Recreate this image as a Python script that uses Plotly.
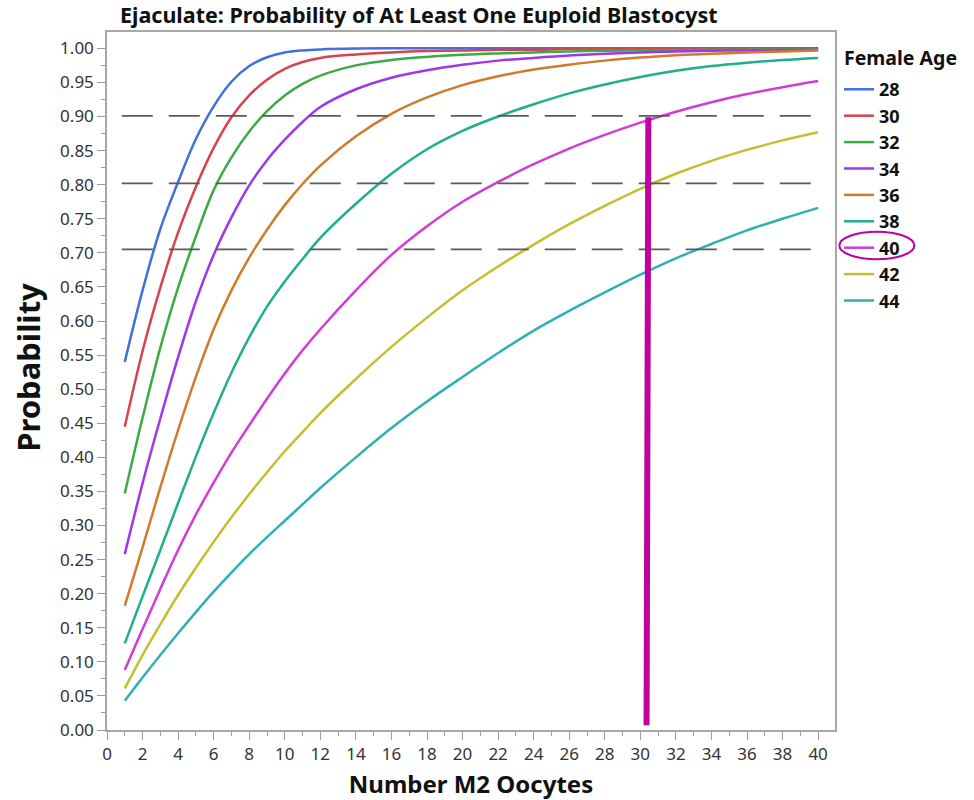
import plotly.graph_objects as go

# ---------------- data ----------------
oocytes = [1, 2, 3, 4, 5, 6, 7, 8, 9, 10, 11, 12, 14, 16, 18, 20, 22, 24, 26, 28, 30, 32, 34, 36, 38, 40]

ages = ["28", "30", "32", "34", "36", "38", "40", "42", "44"]

prob_28 = [0.540, 0.645, 0.735, 0.804, 0.867, 0.915, 0.951, 0.974, 0.987, 0.994, 0.997, 0.9985, 0.9997,
           1.0, 1.0, 1.0, 1.0, 1.0, 1.0, 1.0, 1.0, 1.0, 1.0, 1.0, 1.0, 1.0]
prob_30 = [0.445, 0.556, 0.649, 0.730, 0.797, 0.854, 0.899, 0.931, 0.954, 0.970, 0.980, 0.986, 0.991,
           0.994, 0.996, 0.997, 0.998, 0.998, 0.999, 0.999, 0.999, 0.999, 0.999, 0.999, 0.999, 0.999]
prob_32 = [0.347, 0.458, 0.561, 0.649, 0.724, 0.792, 0.840, 0.878, 0.908, 0.931, 0.948, 0.960, 0.975,
           0.983, 0.9875, 0.9905, 0.9925, 0.994, 0.9955, 0.9965, 0.997, 0.9975, 0.998, 0.998, 0.9985, 0.9988]
prob_34 = [0.258, 0.362, 0.457, 0.547, 0.629, 0.697, 0.752, 0.799, 0.836, 0.866, 0.892, 0.914, 0.940,
           0.957, 0.968, 0.976, 0.982, 0.986, 0.9895, 0.992, 0.994, 0.9955, 0.9965, 0.997, 0.9975, 0.998]
prob_36 = [0.182, 0.268, 0.356, 0.440, 0.518, 0.588, 0.645, 0.693, 0.734, 0.770, 0.801, 0.828, 0.871,
           0.904, 0.928, 0.946, 0.959, 0.969, 0.976, 0.982, 0.9865, 0.990, 0.992, 0.994, 0.9955, 0.997]
prob_38 = [0.127, 0.196, 0.264, 0.333, 0.401, 0.465, 0.524, 0.576, 0.621, 0.658, 0.691, 0.722, 0.772,
           0.816, 0.852, 0.879, 0.900, 0.918, 0.934, 0.947, 0.958, 0.967, 0.974, 0.979, 0.983, 0.986]
prob_40 = [0.088, 0.148, 0.207, 0.264, 0.316, 0.363, 0.407, 0.447, 0.486, 0.523, 0.557, 0.588, 0.645,
           0.697, 0.739, 0.775, 0.804, 0.830, 0.853, 0.873, 0.891, 0.907, 0.921, 0.933, 0.943, 0.952]
prob_42 = [0.061, 0.110, 0.155, 0.198, 0.238, 0.276, 0.312, 0.346, 0.378, 0.409, 0.437, 0.465, 0.515,
           0.562, 0.605, 0.645, 0.680, 0.712, 0.742, 0.769, 0.794, 0.816, 0.835, 0.851, 0.865, 0.877]
prob_44 = [0.043, 0.077, 0.110, 0.142, 0.173, 0.203, 0.231, 0.258, 0.283, 0.307, 0.331, 0.355, 0.400,
           0.443, 0.482, 0.518, 0.553, 0.586, 0.615, 0.642, 0.668, 0.692, 0.713, 0.733, 0.750, 0.766]

series = [prob_28, prob_30, prob_32, prob_34, prob_36, prob_38, prob_40, prob_42, prob_44]

# reference (dashed) probability levels and the highlighted point
ref_levels = [0.901, 0.802, 0.705]
ref_x_span = [0.83, 40.1]
highlight_x = [30.35, 30.45]
highlight_y = [0.007, 0.899]

# ---------------- styles ----------------
colors = ["#3F6FE0", "#D6434F", "#3DAA45", "#9E37EC", "#D07A2C",
          "#1FAF8C", "#D33BD6", "#C6BE2C", "#2FB0B5"]
FONT = "Noto Sans"
HIGHLIGHT = "#C0009F"

fig = go.Figure()

for age, ys, col in zip(ages, series, colors):
    fig.add_trace(go.Scatter(
        x=oocytes, y=ys, mode="lines", name=age,
        line=dict(color=col, width=2.5, shape="spline", smoothing=1.0),
    ))

# dashed reference lines
for lvl in ref_levels:
    fig.add_shape(type="line", xref="x", yref="y",
                  x0=ref_x_span[0], x1=ref_x_span[1], y0=lvl, y1=lvl,
                  line=dict(color="#5a5a5a", width=1.8, dash="31px,16px"))

# highlighted vertical marker
fig.add_shape(type="line", xref="x", yref="y",
              x0=highlight_x[0], x1=highlight_x[1], y0=highlight_y[0], y1=highlight_y[1],
              line=dict(color=HIGHLIGHT, width=6))

# ellipse around legend entry "40"
fig.add_shape(type="circle", xref="paper", yref="paper",
              x0=1.006, x1=1.109, y0=0.6744, y1=0.7139,
              line=dict(color=HIGHLIGHT, width=2))

axis_common = dict(
    showline=True, linecolor="#a8a8a8", linewidth=1.5, mirror=True,
    showgrid=False, zeroline=False, automargin=False,
    ticks="outside", ticklen=8, tickwidth=1.3, tickcolor="#9a9a9a",
    tickfont=dict(family=FONT, size=17, color="#333333"),
)

fig.update_layout(
    width=974, height=800,
    margin=dict(l=107, r=139, t=32, b=70),
    paper_bgcolor="white", plot_bgcolor="white",
    font=dict(family=FONT, color="#111111"),
    title=dict(text="Ejaculate: Probability of At Least One Euploid Blastocyst",
               font=dict(family=FONT, size=21.5, weight="bold", color="#111111"),
               x=0.43, xanchor="center", xref="container",
               y=0.981, yanchor="middle", yref="container"),
    xaxis=dict(range=[0, 40.95], tickmode="linear", tick0=0, dtick=2,
               minor=dict(dtick=1, ticklen=4, ticks="outside", tickcolor="#9a9a9a"),
               title=dict(text="Number M2 Oocytes",
                          font=dict(family=FONT, size=24, weight="bold", color="#111111"),
                          standoff=14),
               **axis_common),
    yaxis=dict(range=[0, 1.024], tickmode="linear", tick0=0, dtick=0.05, tickformat=".2f",
               minor=dict(dtick=0.025, ticklen=4, ticks="outside", tickcolor="#9a9a9a"),
               **axis_common),
    legend=dict(
        font=dict(family=FONT, size=18, weight="bold", color="#111111"),
        x=1.0055, xanchor="left", y=0.944, yanchor="top",
        itemwidth=30, tracegroupgap=0, bgcolor="rgba(0,0,0,0)",
    ),
    showlegend=True,
    annotations=[
        dict(text="Probability", textangle=-90, xref="paper", yref="paper",
             x=-0.1085, y=0.519, xanchor="center", yanchor="middle", showarrow=False,
             font=dict(family=FONT, size=31, weight="bold", color="#111111")),
        dict(text="Female Age", xref="paper", yref="paper",
             x=1.0096, y=0.9628, xanchor="left", yanchor="middle", showarrow=False,
             font=dict(family=FONT, size=19.5, weight="bold", color="#111111")),
    ],
)

fig.write_html("out.html")
